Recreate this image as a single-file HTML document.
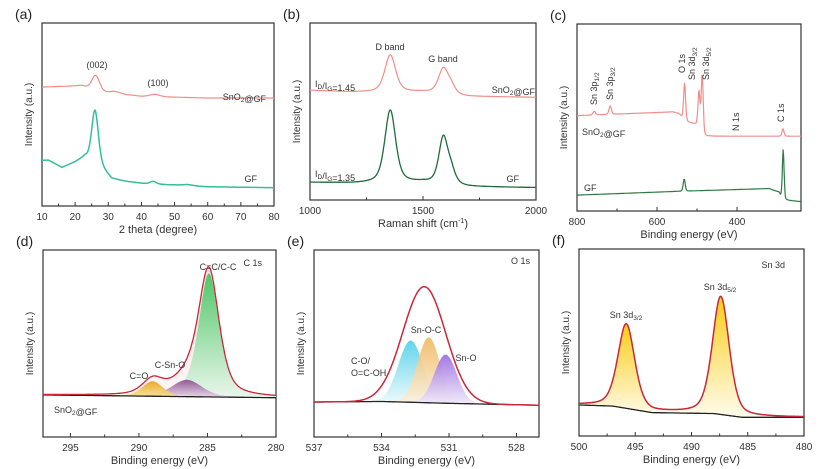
<!DOCTYPE html>
<html><head><meta charset="utf-8"><style>
html,body{margin:0;padding:0;background:#fff;}
svg{display:block;font-family:"Liberation Sans",Arial,sans-serif;}
.t{font-size:10px;fill:#333;}
.s{font-size:9px;fill:#333;}
.pl{font-size:14px;fill:#222;}
.ti{font-size:11px;fill:#333;}
</style></head><body>
<svg id="fig" width="830" height="469" viewBox="0 0 830 469">
<defs>
<linearGradient id="gGreen" x1="0" y1="0" x2="0" y2="1"><stop offset="0" stop-color="#3cc45a"/><stop offset="1" stop-color="#e8f6ea"/></linearGradient>
<linearGradient id="gPurple" x1="0" y1="0" x2="0" y2="1"><stop offset="0" stop-color="#8a4a8c"/><stop offset="1" stop-color="#e8d8ea"/></linearGradient>
<linearGradient id="gOrange" x1="0" y1="0" x2="0" y2="1"><stop offset="0" stop-color="#e8a010"/><stop offset="1" stop-color="#f8e6a0"/></linearGradient>
<linearGradient id="gCyan" x1="0" y1="0" x2="0" y2="1"><stop offset="0" stop-color="#50d0e8"/><stop offset="1" stop-color="#f0fbfd"/></linearGradient>
<linearGradient id="gTan" x1="0" y1="0" x2="0" y2="1"><stop offset="0" stop-color="#f0b860"/><stop offset="1" stop-color="#fcf2e2"/></linearGradient>
<linearGradient id="gViolet" x1="0" y1="0" x2="0" y2="1"><stop offset="0" stop-color="#9a6ae0"/><stop offset="1" stop-color="#f2ecfb"/></linearGradient>
<linearGradient id="gYellow" x1="0" y1="0" x2="0" y2="1"><stop offset="0" stop-color="#f8c800"/><stop offset="1" stop-color="#fffbea"/></linearGradient>
<linearGradient id="gPink" x1="0" y1="0" x2="0" y2="1"><stop offset="0" stop-color="#f6dcdc"/><stop offset="1" stop-color="#fdf5f5"/></linearGradient>
</defs>
</svg>
<script>
// ---------- data ----------
const aTicks=[10,20,30,40,50,60,70,80];
const aRedBase=[[10,0.65],[18,0.655],[22,0.66],[30,0.62],[40,0.6],[60,0.59],[80,0.59]];
const aRedPeaks=[[26.2,0.075,1.1],[44,0.012,1.5],[32,0.01,1.5]];
const aGreenBase=[[10,0.25],[12,0.25],[16,0.21],[20,0.24],[23,0.27],[28,0.21],[31,0.15],[35,0.135],[42,0.12],[50,0.115],[60,0.105],[80,0.1]];
const aGreenPeaks=[[26,0.29,1.0],[43.5,0.015,1.0],[54,0.006,1.5]];
const bTicks=[1000,1500,2000];
const bRedBase=[[1000,0.62],[1200,0.61],[1500,0.61],[1700,0.585],[2000,0.58]];
const bRedPeaks=[[1355,0.21,24],[1590,0.14,22],[1625,0.04,18]];
const bGreenBase=[[1000,0.10],[1200,0.095],[1500,0.10],[1700,0.075],[2000,0.07]];
const bGreenPeaks=[[1355,0.41,24],[1590,0.26,20],[1625,0.07,18]];
const cTicks=[800,600,400];
const cRedBase=[[800,0.51],[560,0.53],[545,0.52],[530,0.48],[500,0.46],[487,0.40],[240,0.40]];
const cRedPeaks=[[757,0.02,3],[717,0.045,3],[531,0.2,2.5],[495,0.2,2.5],[487,0.33,2.5],[285,0.04,2.5]];
const cGreenBase=[[800,0.085],[550,0.105],[320,0.12],[295,0.10],[287,0.06],[240,0.05]];
const cGreenPeaks=[[532,0.065,2.5],[284.5,0.27,2.2]];
const dTicks=[295,290,285,280];
const dBase=[[297,0.225],[280,0.21]];
const dPeaks=[[289,0.08,0.75],[286.5,0.09,1.1],[284.9,0.66,0.75]];
const eTicks=[537,534,531,528];
const eBase=[[537,0.187],[534,0.19],[531,0.18],[527,0.17]];
const eEnvelope=[[532.1,0.62,0.95]];
const ePeaks=[[532.7,0.33,0.55],[531.9,0.35,0.5],[531.15,0.26,0.5]];
const fTicks=[500,495,490,485,480];
const fBase=[[500,0.166],[497,0.16],[493.5,0.125],[488,0.12],[485.5,0.1],[480,0.1]];
const fPeaks=[[495.8,0.45,0.75],[487.4,0.63,0.75]];

// ---------- helpers ----------
const svg=document.getElementById('fig');
const NS='http://www.w3.org/2000/svg';
function mk(tag,attrs,parent){const e=document.createElementNS(NS,tag);for(const k in attrs)e.setAttribute(k,attrs[k]);(parent||svg).appendChild(e);return e;}
function interp(base,x){
  for(let i=0;i<base.length-1;i++){
    const a=base[i],b=base[i+1];
    const lo=Math.min(a[0],b[0]),hi=Math.max(a[0],b[0]);
    if(x>=lo&&x<=hi){const t=(x-a[0])/(b[0]-a[0]);return a[1]+t*(b[1]-a[1]);}
  }
  const first=base[0],last=base[base.length-1];
  return Math.abs(x-first[0])<Math.abs(x-last[0])?first[1]:last[1];
}
function pv(x,p,eta){const d=(x-p[0]);const g=Math.exp(-d*d/(2*p[2]*p[2]));const l=1/(1+Math.pow(d/(p[2]*1.1774),2));return p[1]*((1-eta)*g+eta*l);}
function mkPanel(P){
  P.px=x=>P.l+(x-P.x0)/(P.x1-P.x0)*(P.r-P.l);
  P.py=v=>P.b-v*(P.b-P.t);
  return P;
}
function curvePts(P,base,peaks,eta){
  const pts=[];const N=400;
  for(let i=0;i<=N;i++){const x=P.x0+(P.x1-P.x0)*i/N;let v=interp(base,x);for(const p of peaks)v+=pv(x,p,eta);pts.push([P.px(x),P.py(v)]);}
  return pts;
}
function ptsToD(pts){return 'M'+pts.map(p=>p[0].toFixed(1)+','+p[1].toFixed(1)).join('L');}
function line(P,base,peaks,eta,color,w,name){
  const e=mk('path',{d:ptsToD(curvePts(P,base,peaks,eta)),fill:'none',stroke:color,'stroke-width':w,'stroke-linejoin':'round'});
  
  
  return e;
}
function area(P,base,peaks,eta,fill,name){
  const top=curvePts(P,base,peaks,eta);
  const bot=curvePts(P,base,[],eta).reverse();
  const e=mk('path',{d:ptsToD(top)+'L'+bot.map(p=>p[0].toFixed(1)+','+p[1].toFixed(1)).join('L')+'Z',fill:fill,'fill-opacity':0.9});
  
  
  return e;
}
function text(x,y,str,cls,name,anchor,rot){
  const a={x:x,y:y,class:cls,'text-anchor':anchor||'middle'};
  if(rot)a.transform='rotate(-90 '+x+' '+y+')';
  const e=mk('text',a);e.innerHTML=str;
  
  
  return e;
}
function frame(P,ticks,label,xtitle,id){
  const r=mk('rect',{x:P.l,y:P.t,width:P.r-P.l,height:P.b-P.t,fill:'none',stroke:'#333','stroke-width':1.2});
  
  
  for(let i=0;i<ticks.length;i++){
    const x=P.px(ticks[i]);
    mk('line',{x1:x,x2:x,y1:P.b,y2:P.b-4,stroke:'#333','stroke-width':1});
    if(i<ticks.length-1){const xm=P.px((ticks[i]+ticks[i+1])/2);mk('line',{x1:xm,x2:xm,y1:P.b,y2:P.b-2.5,stroke:'#333','stroke-width':1});}
    text(x,P.b+14,String(ticks[i]),'t',id+'-x-tick-label');
  }
  text((P.l+P.r)/2,P.b+27,xtitle,'ti',id+'-x-axis-title');
  text(P.l-10,(P.t+P.b)/2,'Intensity (a.u.)','t',id+'-y-axis-title','middle',true);
  text(P.l-27,P.t-4,label,'pl',id+'-panel-label','start');
}
const sub=s=>'<tspan dy="2" font-size="6.5">'+s+'</tspan><tspan dy="-2"></tspan>';

// ---------- (a) ----------
const A=mkPanel({l:42,r:274,t:23,b:206,x0:10,x1:80});
frame(A,aTicks,'(a)','2 theta (degree)','xrd');
line(A,aRedBase,aRedPeaks,0,'#f08e8a',1.2,'xrd-sno2-gf-line');
line(A,aGreenBase,aGreenPeaks,0.3,'#35bf9c',1.5,'xrd-gf-line');
text(97,68,'(002)','s','peak-002-label');
text(158,86,'(100)','s','peak-100-label');
text(266,100,'SnO'+sub('2')+'@GF','s','xrd-sno2-gf-label','end');
text(257,182,'GF','s','xrd-gf-label','end');

// ---------- (b) ----------
const B=mkPanel({l:310,r:536,t:23,b:200,x0:1000,x1:2000});
frame(B,bTicks,'(b)','Raman shift (cm<tspan dy="-4" font-size="7">-1</tspan><tspan dy="4">)</tspan>','raman');
line(B,bRedBase,bRedPeaks,0.5,'#f08e8a',1.2,'raman-sno2-gf-line');
line(B,bGreenBase,bGreenPeaks,0.5,'#1f6b3c',1.3,'raman-gf-line');
text(390,50,'D band','s','d-band-label');
text(443,62,'G band','s','g-band-label');
text(315,87,'I'+sub('D')+'/I'+sub('G')+'=1.45','s','ratio-sno2-gf-label','start');
text(315,177,'I'+sub('D')+'/I'+sub('G')+'=1.35','s','ratio-gf-label','start');
text(535,93,'SnO'+sub('2')+'@GF','s','raman-sno2-gf-label','end');
text(519,182,'GF','s','raman-gf-label','end');

// ---------- (c) ----------
const C=mkPanel({l:577,r:801,t:24,b:211,x0:800,x1:240});
frame(C,cTicks,'(c)','Binding energy (eV)','survey');
line(C,cRedBase,cRedPeaks,0.2,'#f08e8a',1.2,'survey-sno2-gf-line');
line(C,cGreenBase,cGreenPeaks,0.2,'#2e7a46',1.2,'survey-gf-line');
text(597,105,'Sn 3p'+sub('1/2'),'s','sn3p12-label','start',true);
text(613,100,'Sn 3p'+sub('3/2'),'s','sn3p32-label','start',true);
text(685,73,'O 1s','s','o1s-label','start',true);
text(695,80,'Sn 3d'+sub('3/2'),'s','sn3d32-label','start',true);
text(709,80,'Sn 3d'+sub('5/2'),'s','sn3d52-label','start',true);
text(739,131,'N 1s','s','n1s-label','start',true);
text(784,122,'C 1s','s','c1s-label','start',true);
text(582,135,'SnO'+sub('2')+'@GF','s','survey-sno2-gf-label','start');
text(584,191,'GF','s','survey-gf-label','start');

// ---------- (d) ----------
const D=mkPanel({l:43,r:276,t:250,b:437,x0:297,x1:280});
frame(D,dTicks,'(d)','Binding energy (eV)','c1s');
area(D,dBase,dPeaks,0.5,'url(#gPink)','c1s-envelope-fill');
area(D,dBase,[dPeaks[2]],0.5,'url(#gGreen)','c1s-cc-component');
area(D,dBase,[dPeaks[1]],0.3,'url(#gPurple)','c1s-csno-component');
area(D,dBase,[dPeaks[0]],0.3,'url(#gOrange)','c1s-co-component');
line(D,dBase,[],0,'#222',1.3,'c1s-background-line');
line(D,dBase,dPeaks,0.5,'#c8283c',1.3,'c1s-envelope-line');
text(262,266,'C 1s','s','c1s-title','end');
text(218,270,'C=C/C-C','s','cc-label');
text(170,368,'C-Sn-O','s','csno-label');
text(139,379,'C=O','s','co-label');
text(54,413,'SnO'+sub('2')+'@GF','s','c1s-sample-label','start');

// ---------- (e) ----------
const E=mkPanel({l:314,r:539,t:250,b:437,x0:537,x1:527});
frame(E,eTicks,'(e)','Binding energy (eV)','o1s');
area(E,eBase,[ePeaks[0]],0,'url(#gCyan)','o1s-co-component');
area(E,eBase,[ePeaks[1]],0,'url(#gTan)','o1s-snoc-component');
area(E,eBase,[ePeaks[2]],0,'url(#gViolet)','o1s-sno-component');
line(E,eBase,[],0,'#222',1.3,'o1s-background-line');
line(E,eBase,eEnvelope,0,'#c8283c',1.5,'o1s-envelope-line');
text(530,264,'O 1s','s','o1s-title','end');
text(426,333,'Sn-O-C','s','snoc-label');
text(466,361,'Sn-O','s','sno-label');
text(351,364,'C-O/','s','co-label-1','start');
text(351,376,'O=C-OH','s','co-label-2','start');

// ---------- (f) ----------
const F=mkPanel({l:579,r:804,t:249,b:436,x0:500,x1:480});
frame(F,fTicks,'(f)','Binding energy (eV)','sn3d');
area(F,fBase,[fPeaks[0]],0.4,'url(#gYellow)','sn3d32-fill');
area(F,fBase,[fPeaks[1]],0.4,'url(#gYellow)','sn3d52-fill');
line(F,fBase,[],0,'#222',1.3,'sn3d-background-line');
line(F,fBase,fPeaks,0.4,'#c8283c',1.5,'sn3d-envelope-line');
text(785,268,'Sn 3d','s','sn3d-title','end');
text(720,290,'Sn 3d'+sub('5/2'),'s','sn3d52-peak-label');
text(626,318,'Sn 3d'+sub('3/2'),'s','sn3d32-peak-label');
</script>
</body></html>
